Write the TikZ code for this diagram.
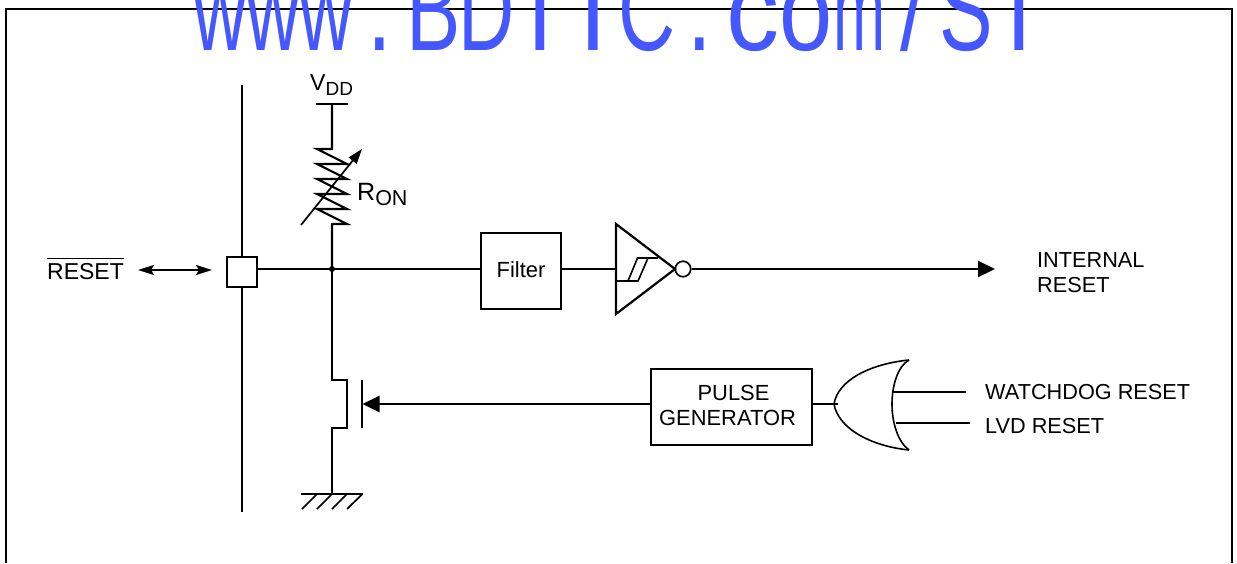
\documentclass[tikz,border=0pt]{standalone}
\usepackage{graphicx}
\usepackage{fontspec}
\setmainfont{Liberation Sans}
\usetikzlibrary{arrows.meta}
\definecolor{wmblue}{HTML}{4558FF}
\newcommand{\wc}[2]{\makebox[53.3pt]{\scalebox{#1}[1]{#2}}}
\newcommand{\subt}[2]{{\fontsize{#1}{#1}\selectfont\raisebox{-5.5pt}{#2}}}
\tikzset{
  x=1pt,y=-1pt,
  wire/.style={line width=2.2pt,line cap=butt,line join=miter},
  thin wire/.style={line width=1.6pt},
  boxn/.style={draw,line width=2.2pt,inner sep=0pt,align=center,font=\fontsize{21.9}{25}\selectfont},
  lab/.style={inner sep=0pt,anchor=base west,font=\fontsize{21.7}{25}\selectfont,align=left},
  bigtip/.style={-{Triangle[length=17pt,width=16pt]}},
  smalltip/.style={{Stealth[length=16pt,width=10pt,inset=3pt]}-{Stealth[length=16pt,width=10pt,inset=3pt]}},
}
\begin{document}
\begin{tikzpicture}
\useasboundingbox (0,0) rectangle (1237,563);
\clip (0,0) rectangle (1237,563);
% frame
\draw[line width=2.2pt] (6,563) -- (6,9) -- (1232,9) -- (1232,563);
% watermark
\node[inner sep=0pt,anchor=base west,text=wmblue,font=\fontsize{118}{118}\selectfont] (wm) at (193.3,50)
  {\wc{.63}{w}\wc{.63}{w}\wc{.63}{w}\wc{.75}{.}\wc{.69}{B}\wc{.66}{D}\wc{.8}{T}\wc{.85}{I}\wc{.67}{C}\wc{.75}{.}\wc{.9}{c}\wc{.81}{o}\wc{.53}{m}\wc{.76}{/}\wc{.68}{S}\wc{.8}{T}};
% named points
\coordinate (railtop) at (242,85);
\coordinate (railbot) at (242,512);
\node[boxn,minimum width=30pt,minimum height=30pt,fill=white] (pad) at (242,272) {};
\coordinate (junct) at (332,269);
\node[boxn,minimum width=80pt,minimum height=76pt] (filter) at (521,271) {\raisebox{3pt}{Filter}};
\node[boxn,minimum width=161pt,minimum height=76pt] (pulse) at (731.5,407) {\raisebox{3pt}{\mbox{\kern4pt PULSE}}\\\raisebox{3pt}{\mbox{GENERATOR\kern8pt}}};
\coordinate (bufTL) at (616,224);
\coordinate (bufBL) at (616,314);
\coordinate (bufTip) at (675,269);
\coordinate (bufIn) at (616,269);
\node[circle,draw,line width=1.7pt,minimum size=15.5pt,inner sep=0pt] (bubble) at (683,269) {};
\coordinate (outEnd) at (995,269);
\node[lab] (intreset) at (1037,292) {INTERNAL\\RESET};
% rail and pad link
\draw[wire] (railtop) -- (pad.north);
\draw[wire] (pad.south) -- (railbot);
\draw[wire] (pad.east |- junct) -- (junct);
\draw[wire] (junct) -- (filter.west |- junct);
\fill (junct) circle (3pt);
% RESET
\node[inner sep=0pt,anchor=base west,font=\fontsize{23}{24}\selectfont] (resetlab) at (47,279) {$\overline{\rule{0pt}{19pt}\mbox{RESET}}$};
\coordinate (biL) at (138,270);
\coordinate (biR) at (212,270);
\draw[line width=2pt,smalltip] (biL) -- (biR);
% VDD
\node[inner sep=0pt,anchor=base west,font=\fontsize{23}{23}\selectfont] (vdd) at (310,90) {V\subt{19}{DD}};
\coordinate (vddL) at (316,104);
\coordinate (vddR) at (348,104);
\coordinate (vddM) at (332,104);
\draw[wire] (vddL) -- (vddR);
% resistor
\coordinate (rTop) at (332,149);
\coordinate (rBot) at (332,224);
\draw[wire] (vddM) -- (rTop) -- (317,149) -- (347,164) -- (317,164) -- (347,179) -- (317,179) -- (347,194) -- (317,194) -- (347,209) -- (317,209) -- (347,224) -- (rBot) -- (junct);
\coordinate (varA) at (301,225);
\coordinate (varB) at (362,149);
\draw[line width=1.7pt,-{Triangle[length=15pt,width=10pt]}] (varA) -- (varB);
\node[inner sep=0pt,anchor=base west,font=\fontsize{25}{25}\selectfont] (ron) at (357,200) {R\subt{21.5}{ON}};
% filter to buffer
\draw[wire] (filter.east |- junct) -- (bufIn);
\draw[wire] (bufTL) -- (bufBL) -- (bufTip) -- cycle;
% hysteresis
\draw[line width=1.6pt] (617,281) -- (638,281) -- (648,258);
\draw[line width=1.6pt] (628,281) -- (637.5,258) -- (658,258);
% output
\draw[wire,bigtip] (bubble.east) -- (outEnd);
% transistor
\coordinate (dTop) at (332,380);
\coordinate (dR1) at (347,380);
\coordinate (dR2) at (347,428);
\coordinate (dBot) at (332,428);
\coordinate (gndT) at (332,494);
\draw[wire] (junct) -- (dTop) -- (dR1) -- (dR2) -- (dBot) -- (gndT);
\coordinate (gateT) at (362,380);
\coordinate (gateB) at (362,428);
\coordinate (gateM) at (362.5,404);
\draw[wire] (gateT) -- (gateB);
\draw[wire,bigtip] (pulse.west |- gateM) -- (gateM);
% ground
\draw[wire] (301,494) -- (363,494);
\draw[line width=1.7pt] (317,494) -- (302,509) (332,494) -- (317,509) (347,494) -- (332,509) (362.5,494) -- (347,509);
% OR gate
\coordinate (orTop) at (909,360);
\coordinate (orBot) at (909,450);
\coordinate (orBack) at (892,404);
\coordinate (orFront) at (834,404);
\coordinate (orIn) at (838,404);
\draw[wire] (pulse.east |- orIn) -- (orIn);
\draw[thin wire] (orTop) .. controls (870,364) and (838,380) .. (orFront) .. controls (838,428) and (870,446) .. (orBot);
\draw[thin wire] (orTop) .. controls (898,366) and (892,385) .. (orBack) .. controls (892,423) and (898,442) .. (orBot);
\coordinate (wdA) at (893,392);
\coordinate (wdB) at (966,392);
\coordinate (lvA) at (896,423);
\coordinate (lvB) at (970,423);
\draw[wire] (wdA) -- (wdB);
\draw[wire] (lvA) -- (lvB);
\node[lab] (wdlab) at (985,399) {WATCHDOG RESET};
\node[lab] (lvlab) at (985,433) {LVD RESET};
\end{tikzpicture}
\end{document}
